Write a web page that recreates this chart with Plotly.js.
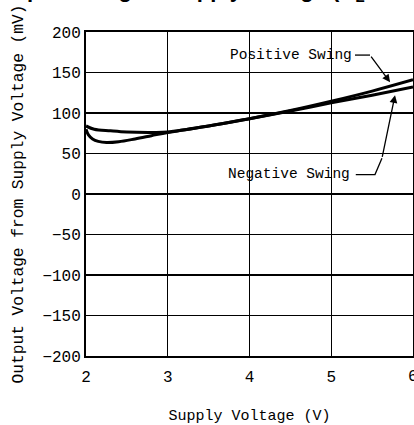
<!DOCTYPE html>
<html>
<head>
<meta charset="utf-8">
<script src="https://cdn.plot.ly/plotly-3.0.1.min.js"></script>
<style>html,body{margin:0;padding:0;background:#fff;}#chart{width:414px;height:425px;}</style>
</head>
<body>
<div id="chart"></div>
<script>
// Supply voltage (V)
const posX = [2.0, 2.03, 2.08, 2.15, 2.25, 2.4, 2.6, 2.8, 3.0, 3.5, 4.0, 4.5, 5.0, 5.5, 6.0];
const posY = [80, 73, 68, 65, 63.5, 64.5, 68, 72, 76, 84, 93, 103, 114.5, 127, 141];
const negX = [2.0, 2.1, 2.3, 2.5, 2.8, 3.0, 3.5, 4.0, 4.5, 5.0, 5.5, 6.0];
const negY = [84, 80, 78, 76.5, 76, 76.5, 84, 93, 102.5, 112.5, 122, 132];
const xTicks = [2, 3, 4, 5, 6];
const yTicks = [-200, -150, -100, -50, 0, 50, 100, 150, 200];
const titleText = "<b>Output Swing vs Supply Voltage (R<sub>L</sub> = 2 kΩ)</b>";
const mono = "Liberation Mono, DejaVu Sans Mono, monospace";

const traces = [
  {x: posX, y: posY, mode: 'lines', line: {color: '#000', width: 3, shape: 'spline'}, name: 'Positive Swing', hoverinfo: 'skip'},
  {x: negX, y: negY, mode: 'lines', line: {color: '#000', width: 3, shape: 'spline'}, name: 'Negative Swing', hoverinfo: 'skip'}
];

const layout = {
  width: 414, height: 425,
  margin: {l: 86, r: 1, t: 32, b: 69},
  paper_bgcolor: '#fff', plot_bgcolor: '#fff',
  showlegend: false,
  font: {family: mono, color: '#000', size: 16},
  xaxis: {
    range: [2, 6], tickvals: xTicks, ticktext: xTicks.map(String),
    showgrid: true, gridcolor: '#000', gridwidth: 1.2,
    showline: true, linecolor: '#000', linewidth: 2, mirror: true,
    ticks: '', zeroline: false, tickfont: {family: mono, size: 16}, ticklabelstandoff: 5,
    title: {text: 'Supply Voltage (V)', font: {family: mono, size: 15}, standoff: 24}
  },
  yaxis: {
    range: [-200, 200], tickvals: yTicks, ticktext: yTicks.map(v => v < 0 ? '\u2212' + Math.abs(v) : String(v)),
    showgrid: true, gridcolor: '#000', gridwidth: 1.2,
    showline: true, linecolor: '#000', linewidth: 2, mirror: true,
    ticks: '', zeroline: false, tickfont: {family: mono, size: 16},
    title: {text: 'Output Voltage from Supply Voltage (mV)', font: {family: mono, size: 16.2}, standoff: 15}
  },
  shapes: [
    {type: 'line', xref: 'x', yref: 'y', x0: 5.29, y0: 171.5, x1: 5.474, y1: 171.5, line: {color: '#000', width: 1.3}},
    {type: 'path', xref: 'x', yref: 'y', path: 'M 5.30 24 L 5.535 24 L 5.62 44', line: {color: '#000', width: 1.3}}
  ],
  annotations: [
    {text: titleText, xref: 'paper', yref: 'paper', x: 0.4, y: 1, yanchor: 'bottom', xanchor: 'center', yshift: 25, showarrow: false, font: {family: 'Liberation Sans, Arial, sans-serif', size: 22, color: '#000'}},
    {text: '6', xref: 'x', yref: 'paper', x: 6, y: 0, yanchor: 'top', xanchor: 'center', yshift: -10, showarrow: false, font: {family: mono, size: 16}},
    {text: 'Positive Swing', x: 4.51, y: 171.5, xref: 'x', yref: 'y', showarrow: false, font: {family: mono, size: 14.5}},
    {text: 'Negative Swing', x: 4.48, y: 25, xref: 'x', yref: 'y', showarrow: false, font: {family: mono, size: 14.5}},
    {text: '', x: 5.72, y: 138, xref: 'x', yref: 'y', axref: 'x', ayref: 'y', ax: 5.474, ay: 171.5, showarrow: true, arrowhead: 2, arrowsize: 1.2, arrowwidth: 1.3, arrowcolor: '#000'},
    {text: '', x: 5.78, y: 122, xref: 'x', yref: 'y', axref: 'x', ayref: 'y', ax: 5.62, ay: 44, showarrow: true, arrowhead: 2, arrowsize: 1.2, arrowwidth: 1.3, arrowcolor: '#000'}
  ]
};

Plotly.newPlot('chart', traces, layout, {staticPlot: true, displayModeBar: false});
</script>
</body>
</html>
